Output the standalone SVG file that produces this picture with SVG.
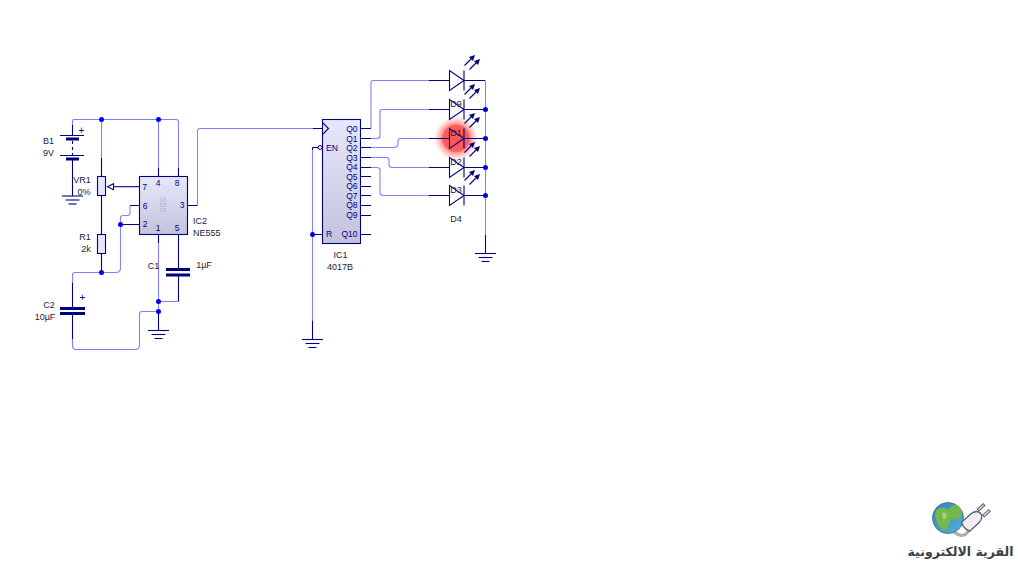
<svg xmlns="http://www.w3.org/2000/svg" width="1018" height="573" viewBox="0 0 1018 573">
<style>
.w{fill:none;stroke:#8080ff;stroke-width:1.1}
.d{fill:none;stroke:#000080;stroke-width:1.1}
.t{fill:none;stroke:#000080;stroke-width:3}
.j{fill:#0000e6}
.box{stroke:#000080;stroke-width:1.1}
.res{fill:#e6e6fa;stroke:#000080;stroke-width:1.1}
text{font-family:"Liberation Sans",Arial,sans-serif;font-size:9px;fill:#1c1c3a}
.p{fill:#000080;font-size:8.5px}
.m{text-anchor:middle}
.e{text-anchor:end}
.dio{fill:#fff;fill-opacity:.01;stroke:#000080;stroke-width:1.1}
.arr{fill:#000080}
</style>
<defs>
<linearGradient id="ic" x1="0" y1="0" x2="0" y2="1"><stop offset="0" stop-color="#e8e8fc"/><stop offset="1" stop-color="#c2c2dc"/></linearGradient>
<radialGradient id="glow"><stop offset="0" stop-color="#ff5555"/><stop offset=".58" stop-color="#ff5a5a"/><stop offset=".66" stop-color="#ff9a9a"/><stop offset="1" stop-color="#ffb0b0" stop-opacity="0"/></radialGradient>
<linearGradient id="globe" x1="0" y1="0" x2="1" y2="1"><stop offset="0" stop-color="#2f86b8"/><stop offset="1" stop-color="#5ab0d8"/></linearGradient>
<g id="gnd"><path class="d" d="M-10.500 0H10.500"/><path class="d" d="M-7 4H7"/><path class="d" d="M-4 8H4"/></g>
<g id="led">
<path class="d" d="M-21 0H0M14.500 -10V10M14.500 0H35.500"/>
<path class="dio" d="M0 -10V10L14.500 0Z"/>
<path class="d" d="M15 -15L23 -23M20 -11L28 -19"/>
<path class="arr" d="M25.500 -25.500L23.500 -19.500L19.500 -23.500Z"/>
<path class="arr" d="M30.500 -21.500L28.500 -15.500L24.500 -19.500Z"/>
</g>
</defs>
<rect width="1018" height="573" fill="#fff"/>
<circle id="led-glow" cx="456" cy="138.300" r="22" fill="url(#glow)"/>
<g id="connectors">
<path class="w" d="M72.500 125V121Q72.500 119.500 74 119.500H176Q178.500 119.500 178.500 122V168"/>
<path class="w" d="M101.500 119.500V158M158.500 119.500V168"/>
<path class="d" d="M72.500 125V135M72.500 159V196M101.500 158V176.500M101.500 195.500V234.500M101.500 253.500V272.500M158.500 168V176.500M178.500 168V176.500"/>
<path class="d" d="M113 186.700H139.500"/>
<path class="d" d="M130 205.500H139.500M120.500 224.500H139.500M187.500 205.500H197.500"/>
<path class="w" d="M130 205.500V213Q130 215.500 127.500 215.500H123Q120.500 215.500 120.500 218V268Q120.500 272.500 116 272.500H75Q72.500 272.500 72.500 275V283"/>
<path class="d" d="M72.500 283V308M72.500 314V339"/>
<path class="w" d="M72.500 339V346Q72.500 349.500 76 349.500H135Q139.500 349.500 139.500 345V314Q139.500 311.500 142 311.500H158.500"/>
<path class="d" d="M158.500 234.500V243M178.500 234.500V269M178.500 275V301.500"/>
<path class="w" d="M158.500 243V311.500M158.500 301.500H178.500"/>
<path class="d" d="M158.500 311.500V330.500"/>
<path class="w" d="M197.500 205.500V131Q197.500 128.500 200 128.500H313"/>
<path class="d" d="M313 128.500H322.500M312.500 147.500H318M312.500 234.500H322.500"/>
<path class="w" d="M312.500 148V320.500"/>
<path class="d" d="M312.500 147.500V150M312.500 320.500V339.500"/>
<path class="d" d="M360.500 128.500H371M360.500 138.500H371M360.500 147.500H371M360.500 157.500H371M360.500 167.500H371M360.500 176.500H371M360.500 186.500H371M360.500 195.500H371M360.500 205.500H371M360.500 215.500H371M360.500 234.500H371"/>
<path class="w" d="M371 128.500V83Q371 80.500 373.500 80.500H428"/>
<path class="w" d="M371 138.500H377Q380 138.500 380 135.500V112Q380 109.500 382.500 109.500H428"/>
<path class="w" d="M371 147.500H394Q398 147.500 398 143.500V141Q398 138.500 400.500 138.500H428"/>
<path class="w" d="M371 157.500H386.500Q389 157.500 389 160V164.500Q389 167.500 392 167.500H428"/>
<path class="w" d="M371 167.500H377Q380 167.500 380 170V192.500Q380 195.500 383 195.500H428"/>
<path class="w" d="M485.500 80.500V235"/>
<path class="d" d="M485.500 235V253.500"/>
<circle class="j" cx="101.500" cy="119.500" r="2.500"/>
<circle class="j" cx="158.500" cy="119.500" r="2.500"/>
<circle class="j" cx="120.500" cy="224.500" r="2.500"/>
<circle class="j" cx="101.500" cy="272.500" r="2.500"/>
<circle class="j" cx="158.500" cy="301.500" r="2.500"/>
<circle class="j" cx="158.500" cy="311.500" r="2.500"/>
<circle class="j" cx="312.500" cy="234.500" r="2.500"/>
<circle class="j" cx="485.500" cy="109.500" r="2.500"/>
<circle class="j" cx="485.500" cy="138.500" r="2.500"/>
<circle class="j" cx="485.500" cy="167.500" r="2.500"/>
<circle class="j" cx="485.500" cy="195.500" r="2.500"/>
</g>
<g id="B1">
<path class="d" d="M60 135.500H84M60 155.500H84"/>
<path class="t" d="M66 139H79M66 159H79"/>
<path class="d" stroke-dasharray="3 3" d="M72.500 141V155"/>
<use href="#gnd" x="72.500" y="196"/>
<text x="48.500" y="144" class="m">B1</text><text x="48.500" y="156" class="m">9V</text>
<text x="81.500" y="134" class="m p" style="font-size:10px">+</text>
</g>
<g id="VR1">
<rect class="res" x="97.500" y="176.500" width="8" height="19"/>
<path class="res" d="M107.500 186.700L113.500 183.700V189.700Z" style="fill:#fff"/>
<text x="82" y="183" class="m">VR1</text><text x="84" y="195" class="m">0%</text>
</g>
<g id="R1">
<rect class="res" x="97.500" y="234.500" width="8" height="19"/>
<text x="85" y="240" class="m">R1</text><text x="86" y="252" class="m">2k</text>
</g>
<g id="IC2">
<rect class="box" x="139.500" y="176.500" width="48" height="58" fill="url(#ic)"/>
<text class="p m" x="144.500" y="189.500">7</text><text class="p m" x="145" y="208.500">6</text><text class="p m" x="145" y="227">2</text>
<text class="p m" x="158" y="186">4</text><text class="p m" x="177" y="186">8</text><text class="p m" x="182" y="208">3</text>
<text class="p m" x="158" y="231">1</text><text class="p m" x="177" y="231">5</text>
<text class="m" transform="translate(160,205) rotate(90)" style="fill:#b4b4d8">555</text>
<text x="193" y="224">IC2</text><text x="193" y="236">NE555</text>
</g>
<g id="C1">
<path class="t" d="M166 269.500H190M166 275H190"/>
<text x="153.500" y="269" class="m">C1</text><text x="204" y="268" class="m">1µF</text>
</g>
<g id="C2">
<path class="t" d="M60 308.500H85M60 313.500H85"/>
<text x="49" y="308" class="m">C2</text><text x="45" y="320" class="m">10µF</text>
<text x="82.500" y="301" class="m p" style="font-size:10px">+</text>
</g>
<g id="GND1"><use href="#gnd" x="158.500" y="330.500"/></g>
<g id="GND2"><use href="#gnd" x="312.500" y="339.500"/></g>
<g id="GND3"><use href="#gnd" x="485.500" y="253.500"/></g>
<g id="IC1">
<rect class="box" x="322.500" y="119.500" width="38" height="124" fill="url(#ic)"/>
<path class="d" d="M322.500 122.500L328.500 128.500L322.500 134.500"/>
<circle cx="320" cy="147.500" r="2" fill="#fff" stroke="#000080"/>
<text class="p" x="326" y="151">EN</text><text class="p" x="326" y="236.500">R</text>
<text class="p e" x="357.500" y="132">Q0</text><text class="p e" x="357.500" y="141.500">Q1</text><text class="p e" x="357.500" y="151">Q2</text>
<text class="p e" x="357.500" y="160.500">Q3</text><text class="p e" x="357.500" y="170">Q4</text><text class="p e" x="357.500" y="179.500">Q5</text>
<text class="p e" x="357.500" y="189">Q6</text><text class="p e" x="357.500" y="198.500">Q7</text><text class="p e" x="357.500" y="208">Q8</text>
<text class="p e" x="357.500" y="217.500">Q9</text><text class="p e" x="357.500" y="236.500">Q10</text>
<text x="340.500" y="257.500" class="m">IC1</text><text x="340" y="270" class="m">4017B</text>
</g>
<g id="LED0"><use href="#led" x="449.500" y="80.500"/></g>
<g id="D9"><use href="#led" x="449.500" y="109.500"/><text x="456" y="107" class="m">D9</text></g>
<g id="D1"><use href="#led" x="449.500" y="138.500"/><text x="456" y="136" class="m">D1</text></g>
<g id="D2"><use href="#led" x="449.500" y="167.500"/><text x="456" y="165" class="m">D2</text></g>
<g id="D3"><use href="#led" x="449.500" y="195.500"/><text x="456" y="193" class="m">D3</text></g>
<text id="D4" x="456" y="221.500" class="m">D4</text>
<g id="logo">
<path d="M953 531Q961 538 966 534Q970 530 970 526" fill="none" stroke="#a8acb8" stroke-width="3"/>
<circle cx="948" cy="518" r="15.500" fill="url(#globe)" stroke="#3a6a88" stroke-width=".8"/>
<path d="M936 511Q942 504 948 510Q952 504 958 505Q963 511 961 516Q955 522 951 518Q950 527 944 531Q939 528 937 522Q934 516 936 511Z" fill="#74b84f"/>
<path d="M942 513Q945 511 947 515Q946 520 943 519Z" fill="#a8d070"/>
<g transform="rotate(-42 973 520)">
<path d="M963 514H976Q983 515 983 520Q983 525 976 526H963Q960 520 963 514Z" fill="#eceef2" stroke="#5a5f68" stroke-width="1.300"/>
<path d="M983 516H992M983 524H992" stroke="#5a5f68" stroke-width="3.500" fill="none"/>
<path d="M984 516H991M984 524H991" stroke="#cfe0ee" stroke-width="1.500" fill="none"/>
</g>
<text x="960.500" y="555.500" class="m" direction="rtl" style="font-family:'DejaVu Sans',sans-serif;font-size:12.500px;font-weight:bold;fill:#3e3e3e">القرية الالكترونية</text>
</g>
</svg>
